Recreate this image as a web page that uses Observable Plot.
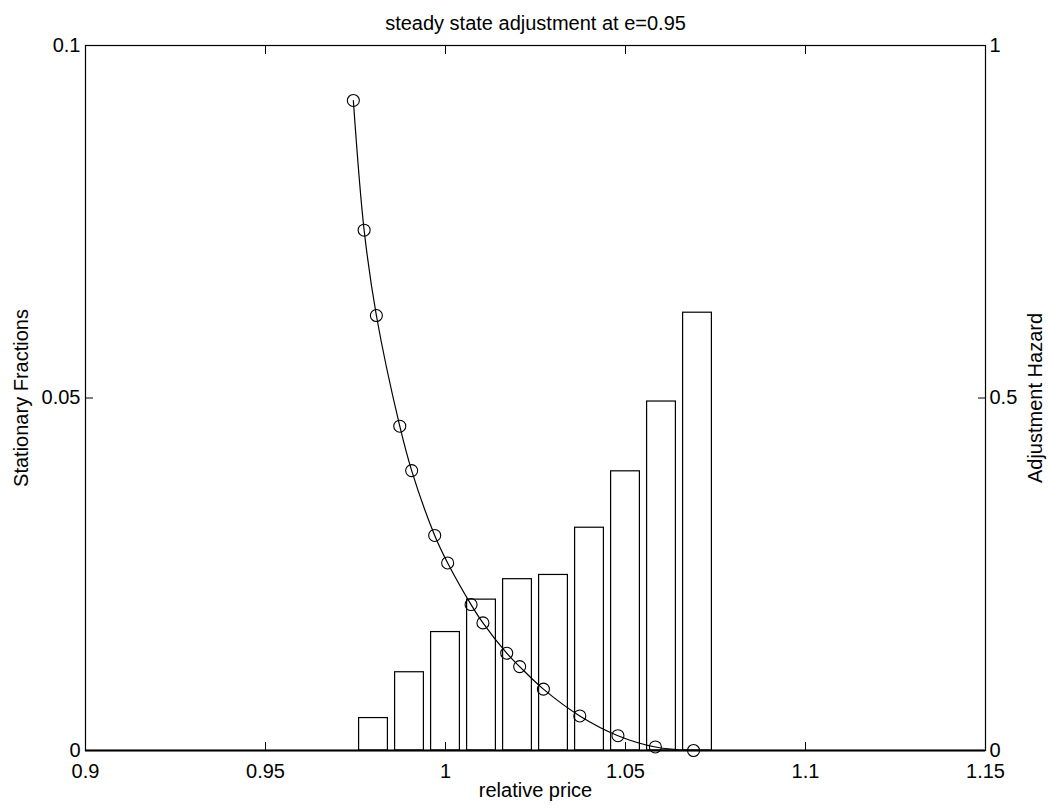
<!DOCTYPE html>
<html>
<head>
<meta charset="utf-8">
<script src="https://cdn.jsdelivr.net/npm/d3@7"></script>
<script src="https://cdn.jsdelivr.net/npm/@observablehq/plot@0.6"></script>
<style>
  html, body { margin: 0; padding: 0; background: #fff; }
  #chart svg { display: block; }
</style>
</head>
<body>
<div id="chart"></div>
<script>
// Data
const title = "steady state adjustment at e=0.95";
const xLabel = "relative price";
const yLeftLabel = "Stationary Fractions";
const yRightLabel = "Adjustment Hazard";

const xTicks = [0.9, 0.95, 1, 1.05, 1.1, 1.15];
const yLeftTicks = [0, 0.05, 0.1];
const yRightTicks = [0, 0.5, 1];

// Histogram of stationary fractions
const barPrices = [0.98, 0.99, 1.00, 1.01, 1.02, 1.03, 1.04, 1.05, 1.06, 1.07];
const fractions = [0.0046, 0.0111, 0.0168, 0.0214, 0.0243, 0.0249, 0.0316, 0.0396, 0.0495, 0.0621];

// Adjustment hazard (right axis, 0..1)
const hazardPrices = [0.9744, 0.9774, 0.9808, 0.9873, 0.9906, 0.9970, 1.0006, 1.0071, 1.0104, 1.0170, 1.0206, 1.0272, 1.0373, 1.0479, 1.0583, 1.0689];
const hazard = [0.922, 0.738, 0.617, 0.460, 0.397, 0.305, 0.266, 0.207, 0.181, 0.138, 0.119, 0.087, 0.049, 0.021, 0.005, 0.0];

const barWidth = 0.008;
const hazardScale = 0.1; // right axis max 1 maps onto left axis max 0.1

const bars = barPrices.map((x, i) => ({x, f: fractions[i]}));
const haz = hazardPrices.map((x, i) => ({x, h: hazard[i] * hazardScale}));

const font = "'Liberation Sans', Arial, Helvetica, sans-serif";
const fs = 20;

const chart = Plot.plot({
  width: 1048,
  height: 810,
  marginLeft: 85,
  marginRight: 63,
  marginTop: 45,
  marginBottom: 60,
  style: {fontFamily: font, fontSize: fs + "px", color: "black", background: "white", overflow: "visible"},
  x: {domain: [0.9, 1.15]},
  y: {domain: [0, 0.1]},
  marks: [
    Plot.rectY(bars, {x1: d => d.x - barWidth / 2, x2: d => d.x + barWidth / 2, y: "f", fill: "white", stroke: "black", strokeWidth: 1.2}),
    Plot.line(haz, {x: "x", y: "h", curve: "catmull-rom", stroke: "black", strokeWidth: 1.2}),
    Plot.dot(haz, {x: "x", y: "h", r: 6, stroke: "black", strokeWidth: 1.1, fill: "none"}),
    Plot.ruleY([0], {stroke: "black", strokeWidth: 2.2}),
    Plot.frame({stroke: "black", strokeWidth: 1.2}),
    Plot.axisX({anchor: "bottom", ticks: xTicks, tickSize: -8, tickPadding: 21, tickFormat: d => String(d), label: null, fontSize: fs}),
    Plot.axisX({anchor: "top", ticks: xTicks, tickSize: -8, tickFormat: () => "", label: null}),
    Plot.axisY({anchor: "left", ticks: yLeftTicks, tickSize: -8, tickPadding: 13, tickFormat: d => String(d), label: null, fontSize: fs}),
    Plot.axisY({anchor: "right", ticks: yRightTicks.map(v => v * hazardScale), tickSize: -8, tickPadding: 12, tickFormat: d => String(Math.round(d / hazardScale * 100) / 100), label: null, fontSize: fs}),
    Plot.text([title], {frameAnchor: "top", dy: -30, fontSize: fs}),
    Plot.text([xLabel], {frameAnchor: "bottom", dy: 46, fontSize: fs}),
    Plot.text([yLeftLabel], {frameAnchor: "left", textAnchor: "middle", dx: -64, rotate: -90, fontSize: fs}),
    Plot.text([yRightLabel], {frameAnchor: "right", textAnchor: "middle", dx: 50, rotate: -90, fontSize: fs})
  ]
});
document.getElementById("chart").appendChild(chart);
</script>
</body>
</html>
